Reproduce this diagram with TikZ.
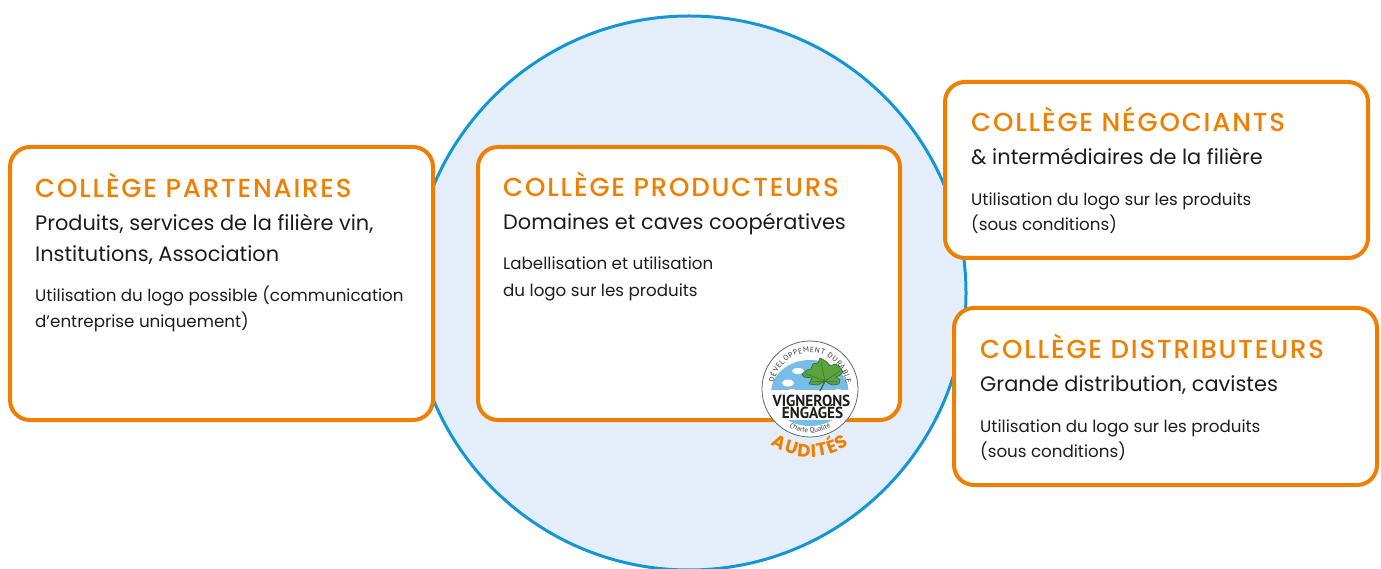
\documentclass[tikz,border=0pt]{standalone}
\usepackage{fontspec}
\setmainfont{Poppins}
\newfontfamily\hdfont{Poppins}[UprightFont=* Medium, LetterSpace=7]
\newfontfamily\logofont{PT Sans}
\usetikzlibrary{decorations.text}
\definecolor{orng}{RGB}{239,127,0}
\definecolor{circblue}{RGB}{20,150,214}
\definecolor{circfill}{RGB}{227,238,250}
\definecolor{txt}{RGB}{29,29,27}
\definecolor{globe}{RGB}{120,188,232}
\definecolor{leafg}{RGB}{92,162,64}
\definecolor{leafd}{RGB}{55,115,45}
\tikzset{
  college/.style={draw=orng, line width=4pt, fill=white, rounded corners=20pt},
  hd/.style={anchor=base west, inner sep=0pt, text=orng, font=\hdfont\fontsize{26}{30}\selectfont},
  sb/.style={anchor=base west, inner sep=0pt, text=txt, font=\fontsize{20.9}{24}\selectfont},
  sm/.style={anchor=base west, inner sep=0pt, text=txt, font=\fontsize{16.7}{20}\selectfont},
}
\begin{document}
\begin{tikzpicture}[x=1pt,y=1pt]
\useasboundingbox (0,0) rectangle (1381,568);
% central circle
\node[circle, draw=circblue, line width=3pt, fill=circfill, minimum size=554pt, inner sep=0pt] (circ) at (689,275) {};
% boxes
\draw[college] (10,148) rectangle (433,421);
\draw[college] (478,148) rectangle (900,421);
\draw[college] (945,310) rectangle (1368,486);
\draw[college] (954,83) rectangle (1377,260);
% partenaires
\node[hd] (p1) at (35,370.3) {COLLÈGE PARTENAIRES};
\node[sb] (p2) at (35,337.3) {Produits, services de la filière vin,};
\node[sb] (p3) at (35,306.3) {Institutions, Association};
\node[sm] (p4) at (35,266) {Utilisation du logo possible (communication};
\node[sm] (p5) at (35,240) {d’entreprise uniquement)};
% producteurs
\node[hd] (r1) at (503,371.3) {COLLÈGE PRODUCTEURS};
\node[sb] (r2) at (503,338) {Domaines et caves coopératives};
\node[sm] (r3) at (503,298) {Labellisation et utilisation};
\node[sm] (r4) at (503,271.3) {du logo sur les produits};
% negociants
\node[hd] (n1) at (971,436.3) {COLLÈGE NÉGOCIANTS};
\node[sb] (n2) at (971,403.7) {\& intermédiaires de la filière};
\node[sm] (n3) at (971,362.3) {Utilisation du logo sur les produits};
\node[sm] (n4) at (971,337.3) {(sous conditions)};
% distributeurs
\node[hd] (d1) at (980,209.7) {COLLÈGE DISTRIBUTEURS};
\node[sb] (d2) at (980,176.3) {Grande distribution, cavistes};
\node[sm] (d3) at (980,135.7) {Utilisation du logo sur les produits};
\node[sm] (d4) at (980,110.7) {(sous conditions)};
% logo
\begin{scope}[shift={(810,179)}]
  \fill[white] (0,0) circle (48);
  \begin{scope}
    \clip (0,-4) ellipse (39 and 33);
    \fill[globe] (0,-4) ellipse (39 and 33);
    \fill[white] (-22,6) ellipse (6 and 3.5);
    \fill[white] (-12,18) ellipse (6 and 3);
    \fill[white] (-31,-4) ellipse (5 and 3);
    \fill[white] (-18,-2) ellipse (4 and 2);
    \fill[white] (28,-2) ellipse (4 and 2);
    \fill[white] (-50,-31) rectangle (50,-1);
  \end{scope}
  \draw[gray!80!black, line width=0.8pt] (0,0) circle (48);
  \begin{scope}[shift={(13,15)}]
    \draw[leafd, fill=leafg, line width=0.7pt, line join=round]
      (2,-7) -- (-5,-11) -- (-14,-10) -- (-11,-4) -- (-19,-3) -- (-21,0) -- (-16,4)
      -- (-12,5) -- (-10,10) -- (-5,11) -- (-3,16) -- (4,12) -- (7,8) -- (12,10)
      -- (16,8) -- (20,2) -- (17,-1) -- (13,-3) -- (17,-6) -- (16,-10) -- (9,-11)
      -- (5,-9) -- cycle;
    \draw[leafd, line width=1.4pt] (2,-7) -- (-3,-17);
    \draw[leafd, line width=0.5pt] (2,-7) -- (-2,12) (2,-7) -- (-17,0) (2,-7) -- (17,3) (2,-7) -- (-11,-8) (2,-7) -- (14,-8);
  \end{scope}
  \node[anchor=base, inner sep=0pt, text=txt, font=\logofont\bfseries\fontsize{16}{16}\selectfont] (lv) at (1.5,-17.5) {\scalebox{0.95}[1]{VIGNERONS}};
  \node[anchor=base, inner sep=0pt, text=txt, font=\logofont\bfseries\fontsize{16}{16}\selectfont] (le) at (2.5,-29.3) {\scalebox{0.95}[1]{ENGAGÉS}};
  \path[decorate, decoration={text along path, text={|\logofont\fontsize{7.5}{8}\selectfont|DÉVELOPPEMENT DURABLE}, text color=gray!40!black, text align=fit to path}] (170:36.5) arc (170:8:36.5);
  \path[decorate, decoration={text along path, text={|\logofont\fontsize{7}{8}\selectfont|Charte Qualité}, text color=gray!50!black, text align=center}] (235:43.5) arc (235:305:43.5);
  \path[decorate, decoration={text along path, text={|\bfseries\fontsize{18}{18}\selectfont|AUDITÉS}, text color=orng, text align=fit to path}] (235:68) arc (235:305:68);
\end{scope}
\end{tikzpicture}
\end{document}
